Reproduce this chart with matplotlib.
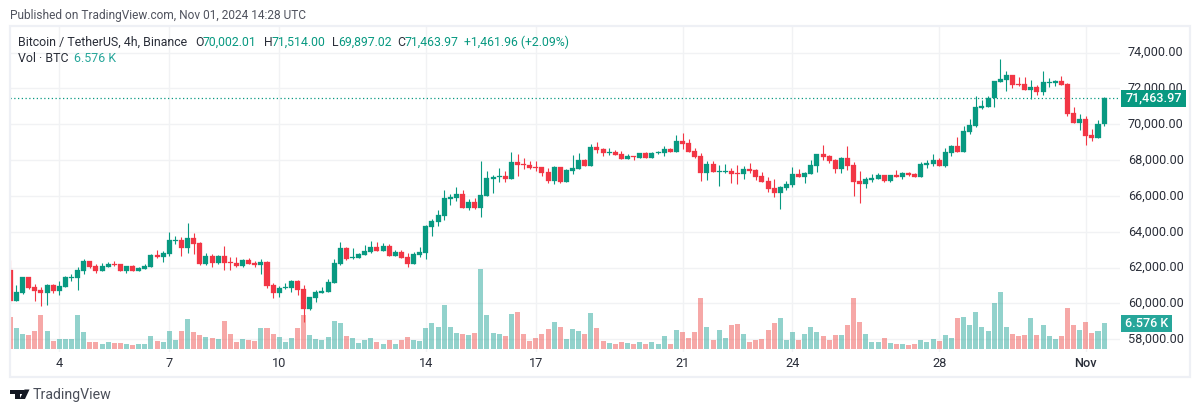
import matplotlib
matplotlib.use("Agg")
import matplotlib.pyplot as plt
from matplotlib.patches import Rectangle, Polygon
from matplotlib.transforms import ScaledTranslation

plt.rcParams['font.family'] = ['Roboto', 'DejaVu Sans']

# 4h candles, first one is Oct 2 16:00, last one Nov 1 12:00
opens = [61870, 60160, 60580, 61480, 60920, 60750, 60580, 61030, 60690, 60920,
         61440, 61420, 61810, 62370, 62090, 61810, 62030, 62200, 62200, 61810,
         62090, 61810, 61920, 62030, 62700, 62590, 62760, 63500, 63540, 63100,
         63650, 63370, 62200, 62650, 62260, 62650, 62310, 62260, 62090, 62430,
         62260, 62150, 62310, 61030, 60580, 60860, 60860, 61250, 60810, 59690,
         60300, 60580, 60640, 61140, 62200, 63100, 62540, 62540, 62700, 62870,
         63150, 62930, 63210, 62650, 62870, 62590, 62200, 62704, 62816, 64267,
         64546, 64881, 65830, 65886, 66109, 65328, 65663, 65328, 65998, 66947,
         67077, 67114, 66947, 67896, 67784, 67728, 67617, 67617, 67338, 66835,
         67617, 66779, 67393, 67505, 68007, 67672, 68733, 68621, 68417, 68454,
         68342, 68063, 68230, 68119, 68398, 68119, 68417, 68398, 68621, 68454,
         69068, 68956, 68510, 68230, 67281, 67784, 67356, 67337, 67393, 67281,
         67226, 67505, 67449, 67114, 66835, 66444, 66165, 66444, 66612, 67226,
         67058, 67225, 67672, 68342, 68230, 68007, 67505, 68119, 67728, 66835,
         66667, 66891, 66946, 67170, 66835, 67170, 67058, 67281, 67225, 67058,
         67728, 67784, 68007, 67672, 68398, 68788, 68453, 69570, 69905, 70909,
         70965, 71468, 72361, 72472, 72751, 72249, 72249, 71914, 72082, 71803,
         72305, 72305, 72417, 72249, 70630, 70072, 70295, 69402, 69235, 70002.01]
highs = [62420, 61030, 61480, 61480, 61090, 60920, 61090, 61090, 61250, 61530,
         61640, 62030, 62480, 62370, 62200, 62260, 62310, 62370, 62200, 62090,
         62150, 62030, 62200, 62760, 62980, 62930, 63990, 63770, 63710, 64490,
         63930, 63430, 62820, 62760, 62700, 63210, 62590, 62590, 62480, 62540,
         62370, 62480, 62370, 61140, 60970, 61140, 61310, 61310, 61030, 60360,
         60750, 60920, 61360, 62480, 63430, 63150, 63100, 62820, 63260, 63490,
         63430, 63370, 63320, 62980, 62980, 62820, 62870, 63151, 64379, 64714,
         65216, 66333, 66109, 66500, 66333, 65830, 65886, 67952, 67393, 67170,
         67561, 67393, 68454, 68342, 68119, 67952, 67952, 67617, 67561, 67672,
         67617, 67505, 68286, 68398, 68063, 68901, 69012, 68677, 68677, 68565,
         68510, 68342, 68230, 68398, 68454, 68454, 68510, 68789, 68677, 69403,
         69514, 69179, 68677, 68398, 67951, 67951, 67728, 67784, 67561, 67728,
         67672, 67840, 67505, 67337, 67058, 66947, 66556, 66835, 67616, 67505,
         67337, 68007, 68342, 68844, 68286, 68063, 68174, 68788, 67895, 67393,
         67058, 67225, 67281, 67170, 67170, 67449, 67337, 67337, 67281, 67895,
         68007, 68342, 68119, 68677, 68844, 69291, 69905, 70295, 71579, 71356,
         71579, 72417, 73645, 72975, 72751, 72640, 72640, 72472, 72193, 72975,
         72584, 72472, 72696, 72305, 70965, 70574, 70463, 69737, 70240, 71514.00]
lows = [60040, 60160, 60550, 60830, 60140, 59860, 59910, 60580, 60470, 60920,
        61250, 60750, 61640, 61980, 61700, 61810, 62030, 62090, 61810, 61700,
        61810, 61810, 61920, 62030, 62540, 62310, 62650, 63320, 62650, 62820,
        62760, 62150, 62150, 62030, 62200, 61870, 61870, 62030, 62030, 62200,
        62030, 61640, 60860, 60300, 60360, 60810, 60640, 60470, 58960, 59630,
        60080, 60580, 60640, 61140, 62150, 62430, 62480, 62540, 62700, 62820,
        62930, 62930, 62650, 62650, 62540, 62040, 62200, 62593, 62481, 63765,
        64323, 64658, 65495, 65719, 65328, 65216, 65272, 64826, 65998, 66165,
        66779, 66779, 66947, 67114, 67505, 67505, 67393, 67114, 66723, 66668,
        66723, 66779, 67226, 67505, 67672, 67672, 68398, 68230, 68286, 68286,
        68063, 68063, 68007, 68119, 68119, 68119, 68342, 68230, 68454, 68454,
        68621, 68454, 68119, 66835, 66891, 67337, 66556, 67281, 66723, 66667,
        66947, 67281, 66891, 66779, 66221, 65942, 65272, 66333, 66500, 67058,
        66723, 67225, 67337, 68007, 67839, 67281, 67281, 67449, 65997, 65607,
        66444, 66779, 66946, 66779, 66779, 67058, 66946, 67114, 67058, 67058,
        67560, 67672, 67672, 67616, 68230, 68454, 68453, 69458, 69849, 70854,
        70965, 70965, 72361, 71858, 72026, 72137, 71914, 71412, 71635, 71635,
        72082, 72137, 72193, 70463, 70072, 69681, 68844, 69067, 69235, 69897.02]
closes = [60160, 60640, 61480, 60860, 60690, 60580, 61030, 60690, 60970, 61480,
          61480, 61870, 62370, 62030, 61810, 62090, 62200, 62160, 61810, 62090,
          61810, 61980, 62090, 62700, 62590, 62820, 63540, 63540, 63100, 63650,
          63320, 62200, 62650, 62260, 62650, 62260, 62270, 62090, 62430, 62200,
          62150, 62310, 60970, 60580, 60860, 60920, 61250, 60750, 59690, 60360,
          60640, 60690, 61200, 62260, 63100, 62480, 62590, 62760, 62930, 63150,
          62930, 63210, 62650, 62870, 62540, 62200, 62760, 62870, 64323, 64602,
          64937, 65886, 65942, 66109, 65328, 65663, 65328, 66054, 67003, 67058,
          67114, 66947, 67896, 67728, 67747, 67561, 67579, 67282, 66835, 67617,
          66779, 67449, 67561, 68007, 67672, 68733, 68566, 68398, 68454, 68286,
          68063, 68230, 68193, 68398, 68119, 68398, 68454, 68621, 68454, 69068,
          68900, 68454, 68175, 67281, 67784, 67337, 67393, 67393, 67226, 67244,
          67505, 67393, 67058, 66779, 66388, 66165, 66500, 66667, 67226, 67058,
          67281, 67728, 68342, 68174, 67951, 67505, 68119, 67672, 66779, 66667,
          66946, 67002, 67170, 66835, 67170, 67058, 67281, 67170, 67058, 67784,
          67839, 68007, 67672, 68454, 68788, 68454, 69625, 69960, 70965, 71021,
          71468, 72417, 72528, 72751, 72193, 72193, 71914, 72082, 71803, 72361,
          72361, 72417, 72193, 70574, 70072, 70295, 69346, 69235, 70016, 71463.97]
# volume in thousands of BTC
volumes = [8.09, 5.31, 3.79, 3.54, 4.55, 8.60, 4.55, 2.02, 2.53, 2.53,
           2.53, 8.60, 4.30, 1.77, 1.77, 1.26, 1.77, 1.52, 1.52, 1.26,
           1.01, 1.26, 1.26, 3.29, 2.02, 1.77, 4.55, 2.28, 4.55, 7.59,
           4.30, 3.54, 3.03, 2.78, 2.53, 7.08, 3.79, 1.77, 2.53, 2.28,
           2.02, 5.31, 5.31, 3.79, 3.03, 1.77, 2.78, 5.31, 8.60, 3.54,
           2.53, 2.28, 3.03, 7.08, 6.58, 3.29, 2.78, 1.52, 2.28, 2.78,
           1.77, 1.26, 2.28, 1.26, 2.28, 3.03, 2.28, 2.02, 5.31, 6.58,
           5.56, 11.13, 5.56, 4.05, 3.79, 3.54, 4.05, 20.23, 8.60, 4.05,
           3.79, 3.29, 8.85, 9.36, 3.79, 2.02, 2.78, 3.79, 5.06, 6.83,
           5.56, 2.53, 5.06, 4.55, 3.79, 9.10, 5.31, 2.02, 1.52, 1.26,
           1.77, 1.52, 1.26, 1.77, 1.26, 1.77, 1.26, 3.29, 1.26, 4.81,
           4.30, 2.78, 4.30, 12.90, 5.56, 2.28, 4.81, 2.78, 6.07, 6.32,
           3.79, 1.77, 2.28, 2.53, 4.81, 6.58, 7.84, 2.28, 4.30, 2.28,
           3.79, 5.56, 4.30, 3.29, 2.28, 3.54, 3.54, 6.07, 12.90, 6.83,
           3.79, 1.77, 1.77, 2.78, 1.52, 1.26, 1.26, 1.01, 1.26, 2.28,
           1.77, 2.53, 2.02, 3.54, 2.78, 7.84, 8.09, 6.07, 9.36, 5.56,
           4.55, 11.63, 14.42, 5.56, 3.79, 3.29, 3.54, 7.84, 3.54, 6.07,
           3.29, 2.53, 3.29, 10.37, 6.07, 4.81, 6.83, 4.05, 4.55, 6.576]
tick_pos = [8, 26, 44, 68, 86, 110, 128, 152, 176]
tick_labels = ['4', '7', '10', '14', '17', '21', '24', '28', 'Nov']
price_ticks = [58000, 60000, 62000, 64000, 66000, 68000, 70000, 72000, 74000]

GREEN = '#089981'
RED = '#F23645'
GRID = '#F1F2F4'
TEXT = '#2A2E39'
W, H = 1200, 412


def fx(x):
    return x / W


def fy(y):
    return 1 - y / H


fig = plt.figure(figsize=(W / 100, H / 100), dpi=100, facecolor='white')
ax = fig.add_axes([fx(10), fy(352), fx(1120 - 10), (352 - 27) / H])
vol = ax.twinx()

xs = list(range(len(closes)))
colors = [GREEN if c >= o else RED for o, c in zip(opens, closes)]
bottoms = [min(o, c) for o, c in zip(opens, closes)]
heights = [abs(c - o) for o, c in zip(opens, closes)]

ax.vlines(xs, lows, highs, colors=colors, linewidth=0.8, zorder=3)
ax.bar(xs, heights, bottom=bottoms, width=0.82, color=colors,
       edgecolor=colors, linewidth=0.2, zorder=4)
ax.axhline(closes[-1], color=GREEN, linewidth=0.9, linestyle=(0, (1, 2)), zorder=2)

ax.set_xlim(-0.06, 181.6)
ax.set_ylim(57290, 75431)
ax.set_xticks(tick_pos)
ax.set_xticklabels(tick_labels)
ax.set_yticks(price_ticks)
ax.set_yticklabels(['{:,.2f}'.format(p) for p in price_ticks])
ax.grid(True, color=GRID, linewidth=1.0, zorder=0)
ax.set_axisbelow(True)
ax.tick_params(axis='x', length=0, labelsize=9.2, labelcolor=TEXT, pad=3.5)
ax.yaxis.tick_right()
ax.tick_params(axis='y', length=0, labelsize=9.1, labelcolor=TEXT, pad=5.6)
ax.get_xticklabels()[-1].set_fontweight('medium')
lift = ScaledTranslation(0, 1.5 / 100, fig.dpi_scale_trans)
for label in ax.get_yticklabels():
    label.set_transform(label.get_transform() + lift)
for s in ax.spines.values():
    s.set_visible(False)

vol_colors = ['#26A69A' if c >= o else '#EF5350' for o, c in zip(opens, closes)]
vol.bar(xs, volumes, width=0.82, color=vol_colors, alpha=0.5, linewidth=0, zorder=3)
vol.set_ylim(-0.76, 81.4)
vol.set_yticks([])
for s in vol.spines.values():
    s.set_visible(False)

# outer frame
fig.add_artist(Rectangle((fx(9.5), fy(377)), fx(1190 - 9.5), (377 - 26) / H,
                         transform=fig.transFigure, fill=False,
                         edgecolor='#EEF0F5', linewidth=1.6))

# last value labels on the scale
fig.add_artist(Rectangle((fx(1121), fy(106.7)), fx(65), 16.7 / H,
                         transform=fig.transFigure, color=GREEN, linewidth=0))
fig.text(fx(1154), fy(98.4), '{:,.2f}'.format(closes[-1]), color='white', fontsize=9.1,
         fontweight='medium', ha='center', va='center')
fig.add_artist(Rectangle((fx(1121), fy(331.7)), fx(50.7), 16.7 / H,
                         transform=fig.transFigure, color='#26A69A', linewidth=0))
fig.text(fx(1146.5), fy(323.4), '{:.3f} K'.format(volumes[-1]), color='white', fontsize=9.1,
         fontweight='medium', ha='center', va='center')

# header and legend
fig.text(fx(10), fy(15), 'Published on TradingView.com, Nov 01, 2024 14:28 UTC',
         color='#50535E', fontsize=8.6, va='center')
fig.text(fx(18), fy(42), 'Bitcoin / TetherUS, 4h, Binance', color=TEXT, fontsize=8.9, va='center')
legend_bits = [(195, 'O', TEXT), (203, '70,002.01', GREEN), (264, 'H', TEXT),
               (272, '71,514.00', GREEN), (332, 'L', TEXT), (338, '69,897.02', GREEN),
               (397, 'C', TEXT), (405, '71,463.97', GREEN), (464, '+1,461.96 (+2.09%)', GREEN)]
for x, s, c in legend_bits:
    fig.text(fx(x), fy(42), s, color=c, fontsize=8.8, va='center')
fig.text(fx(18), fy(59), 'Vol \u00b7 BTC', color=TEXT, fontsize=8.9, va='center')
fig.text(fx(74), fy(59), '6.576 K', color='#26A69A', fontsize=8.9, va='center')

# footer logo and name
dark = '#131722'
fig.add_artist(Polygon([(fx(10), fy(389.5)), (fx(20), fy(389.5)), (fx(20), fy(399)),
                        (fx(15), fy(399)), (fx(15), fy(393.5)), (fx(10), fy(393.5))],
                       transform=fig.transFigure, color=dark, linewidth=0))
fig.add_artist(Polygon([(fx(24.5), fy(389.5)), (fx(29.5), fy(389.5)), (fx(25), fy(399)),
                        (fx(19.5), fy(399))],
                       transform=fig.transFigure, color=dark, linewidth=0))
fig.add_artist(Rectangle((fx(20.3), fy(393.5)), fx(3.2), 3.4 / H,
                         transform=fig.transFigure, color=dark, linewidth=0))
fig.text(fx(33), fy(394.5), 'TradingView', color='#4A4E59', fontsize=10.2, va='center')

fig.savefig('out.png', dpi=100)
